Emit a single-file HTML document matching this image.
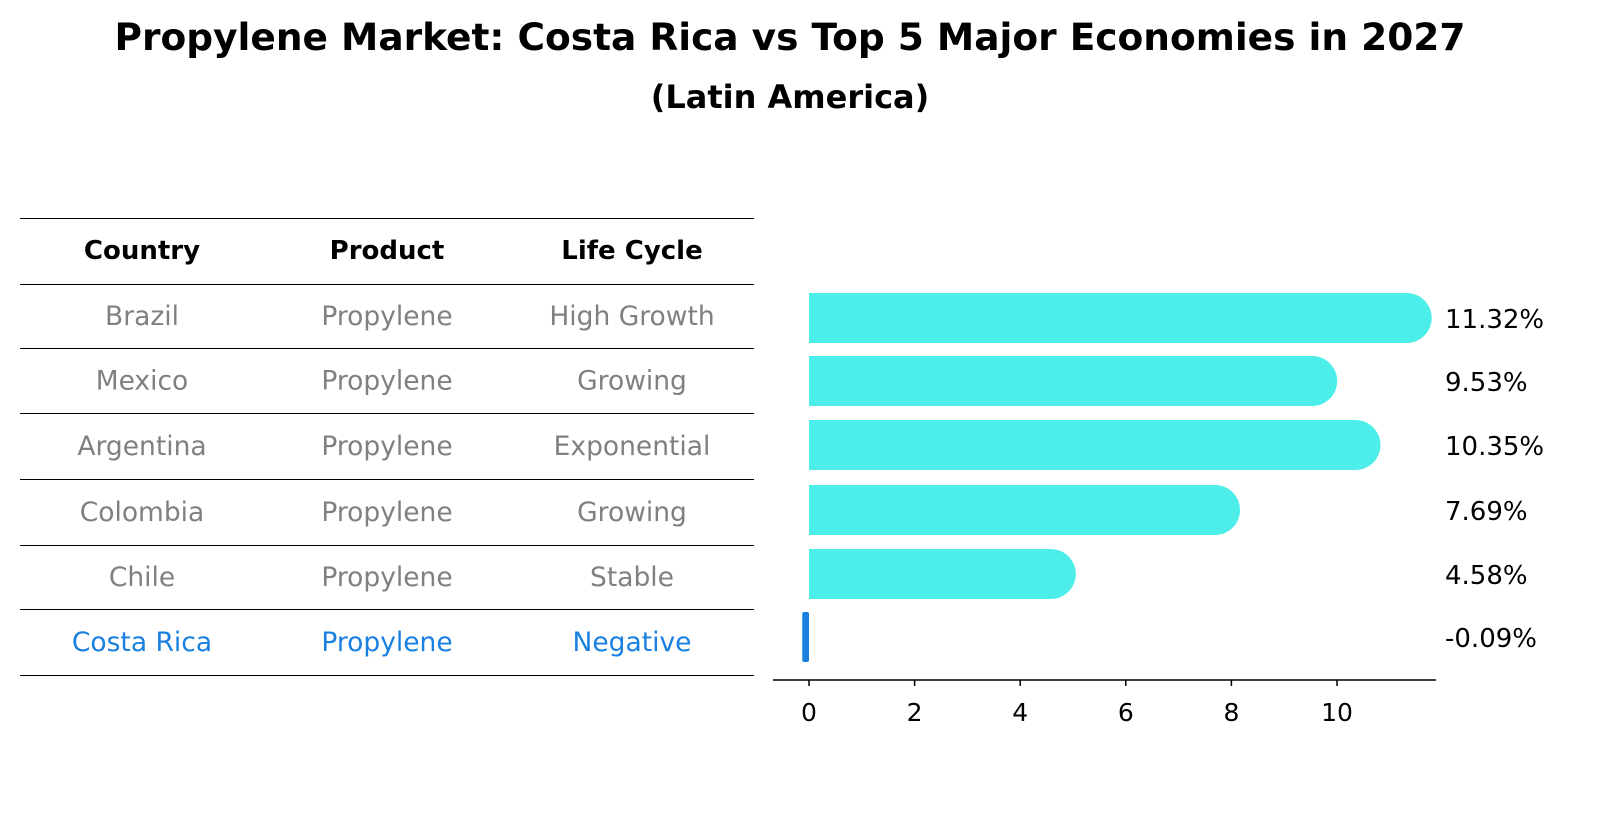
<!DOCTYPE html>
<html><head><meta charset="utf-8"><style>
body{margin:0;background:#fff;font-family:"Liberation Sans","DejaVu Sans",sans-serif;}
svg text{font-family:"DejaVu Sans","Liberation Sans",sans-serif;}
</style></head><body>
<svg width="1604" height="823" xmlns="http://www.w3.org/2000/svg" id="chart">
<text x="790" y="50" text-anchor="middle" font-size="37.5" font-weight="bold">Propylene Market: Costa Rica vs Top 5 Major Economies in 2027</text>
<text x="790" y="108" text-anchor="middle" font-size="32" font-weight="bold">(Latin America)</text>
<g id="table"></g>
<g id="bars"></g>
</svg>
<script>
const countries=["Brazil","Mexico","Argentina","Colombia","Chile","Costa Rica"];
const products=["Propylene","Propylene","Propylene","Propylene","Propylene","Propylene"];
const lifeCycles=["High Growth","Growing","Exponential","Growing","Stable","Negative"];
const values=[11.32,9.53,10.35,7.69,4.58,-0.09];
const ticks=[0,2,4,6,8,10];
const NS="http://www.w3.org/2000/svg";
function mk(t,a,p){const e=document.createElementNS(NS,t);for(const k in a)e.setAttribute(k,a[k]);p.appendChild(e);return e;}
const tbl=document.getElementById('table');
const lineYs=[218,284,348,413,479,545,609,675];
lineYs.forEach((y,i)=>{const l=mk('line',{x1:20,x2:754,y1:y+0.5,y2:y+0.5,stroke:'#000','stroke-width':1,'shape-rendering':'crispEdges'},tbl);

});
const colX=[142,387,632];
["Country","Product","Life Cycle"].forEach((h,i)=>{const t=mk('text',{x:colX[i],y:259,'text-anchor':'middle','font-size':26,'font-weight':'bold'},tbl);t.textContent=h;

});
const rowY=i=>(lineYs[i+1]+lineYs[i+2])/2+9;
countries.forEach((c,i)=>{const col=i===countries.length-1?'#1a80e0':'#808080';
[c,products[i],lifeCycles[i]].forEach((v,j)=>{const t=mk('text',{x:colX[j],y:rowY(i),'text-anchor':'middle','font-size':26.5,fill:col},tbl);t.textContent=v;

});});
const g=document.getElementById('bars');
const x0=809,pxPer=52.8;const X=v=>x0+v*pxPer;
const barC=[318,381,445,510,574,637];const bh=50;
values.forEach((v,i)=>{const cy=barC[i];
if(v>=0){const w=X(v)-x0;
const p=mk('path',{d:`M${x0},${cy-bh/2} H${x0+w} A${bh/2},${bh/2} 0 0 1 ${x0+w},${cy+bh/2} H${x0} Z`,fill:'#4deeea'},g);

}
else{const r=mk('rect',{x:X(v)-2,y:cy-bh/2,width:Math.max(4,-v*pxPer+2),height:bh,fill:'#1a80e0',rx:2},g);

}
const t=mk('text',{x:1445,y:cy+10,'font-size':26},g);t.textContent=v.toFixed(2)+'%';

});
const ax=mk('line',{x1:773,x2:1436,y1:680,y2:680,stroke:'#000','stroke-width':1.5},g);


ticks.forEach(t=>{const l=mk('line',{x1:X(t),x2:X(t),y1:680,y2:686,stroke:'#000','stroke-width':1.5},g);


const tx=mk('text',{x:X(t),y:721,'text-anchor':'middle','font-size':25},g);tx.textContent=t;

});
</script>
</body></html>
